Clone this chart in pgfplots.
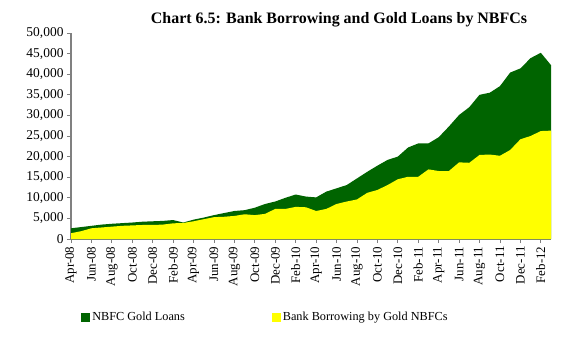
\documentclass[border=0pt]{standalone}
\usepackage{pgfplots}
\pgfplotsset{compat=1.18}
\usepackage{fontspec}
\setmainfont{Liberation Serif}
\definecolor{gl}{RGB}{0,100,0}
\definecolor{bb}{RGB}{255,255,0}
\definecolor{ax}{RGB}{128,128,128}
\begin{document}
\begin{tikzpicture}[x=1bp,y=1bp]
\path[use as bounding box] (-71,-98) rectangle (492,239);
\begin{axis}[
  at={(0,0)}, anchor=south west,
  scale only axis, width=480bp, height=206bp,
  xmin=0, xmax=47, ymin=0, ymax=50000,
  axis x line=bottom, axis y line=left,
  axis line style={-, draw=ax, line width=1.2pt},
  tick style={draw=ax, line width=0.8pt},
  tick align=outside, major tick length=4bp,
  xtick={0,2,...,46},
  xticklabels={Apr-08,Jun-08,Aug-08,Oct-08,Dec-08,Feb-09,Apr-09,Jun-09,Aug-09,Oct-09,Dec-09,Feb-10,Apr-10,Jun-10,Aug-10,Oct-10,Dec-10,Feb-11,Apr-11,Jun-11,Aug-11,Oct-11,Dec-11,Feb-12},
  xticklabel style={rotate=90, anchor=east, font=\fontsize{13}{15}\selectfont},
  ytick={0,5000,...,50000},
  yticklabel style={font=\fontsize{13.5}{15}\selectfont},
  scaled y ticks=false,
  /pgf/number format/.cd, 1000 sep={,}, assume math mode=true,
  /pgfplots/.cd,
  legend columns=2,
  legend style={at={(axis description cs:0.021,-0.379)}, anchor=west, draw=none, inner sep=0pt, font=\fontsize{12.3}{14}\selectfont, /tikz/every even column/.append style={column sep=85bp}},
  legend image code/.code={\fill[#1] (0bp,-4.5bp) rectangle (9bp,4.5bp);},
  legend cell align=left,
]
\addplot[fill=gl, draw=none] coordinates {
(0,2600)(1,2900)(2,3200)(3,3500)(4,3700)(5,3850)(6,4000)(7,4200)(8,4300)(9,4400)
(10,4600)(11,4000)(12,4700)(13,5200)(14,5800)(15,6300)(16,6800)(17,7000)(18,7600)(19,8500)
(20,9100)(21,10000)(22,10800)(23,10300)(24,10100)(25,11500)(26,12300)(27,13100)(28,14700)(29,16300)
(30,17800)(31,19200)(32,20000)(33,22200)(34,23200)(35,23200)(36,24700)(37,27300)(38,30100)(39,32000)
(40,35000)(41,35500)(42,37100)(43,40400)(44,41400)(45,43900)(46,45200)(47,42200)
} \closedcycle;
\addlegendentry{NBFC Gold Loans}
\addplot[fill=bb, draw=none] coordinates {
(0,1400)(1,1900)(2,2600)(3,2800)(4,3000)(5,3200)(6,3300)(7,3400)(8,3400)(9,3500)
(10,3800)(11,3900)(12,4300)(13,4800)(14,5300)(15,5400)(16,5600)(17,6000)(18,5800)(19,6100)
(20,7300)(21,7300)(22,7800)(23,7700)(24,6800)(25,7300)(26,8500)(27,9100)(28,9600)(29,11200)
(30,11900)(31,13100)(32,14500)(33,15100)(34,15100)(35,16900)(36,16500)(37,16500)(38,18600)(39,18500)
(40,20400)(41,20500)(42,20200)(43,21600)(44,24200)(45,25000)(46,26200)(47,26300)
} \closedcycle;
\addlegendentry{Bank Borrowing by Gold NBFCs}
\end{axis}
\node[font=\bfseries\fontsize{16}{18}\selectfont] at (268,219) {Chart 6.5: Bank Borrowing and Gold Loans by NBFCs};
\end{tikzpicture}
\end{document}
